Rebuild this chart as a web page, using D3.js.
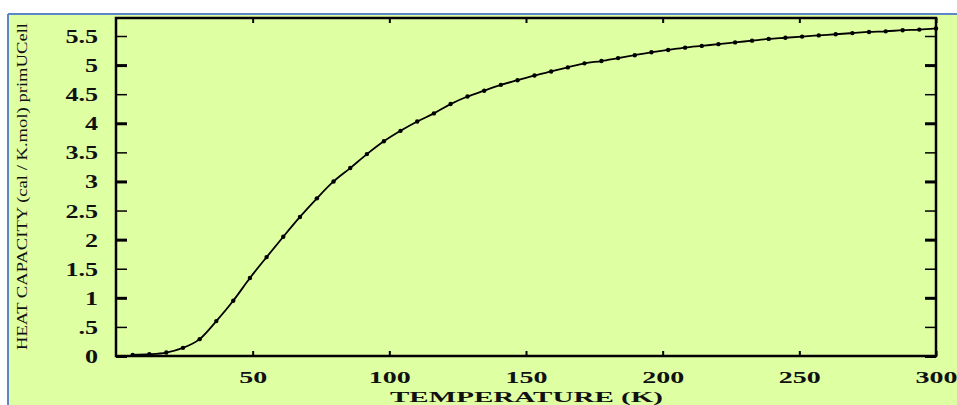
<!DOCTYPE html>
<html>
<head>
<meta charset="utf-8">
<script src="https://cdn.jsdelivr.net/npm/d3@7"></script>
<style>
  html, body { margin: 0; padding: 0; background: #ffffff; }
  svg { display: block; }
</style>
</head>
<body>
<svg id="chart" width="957" height="405"></svg>
<script>
// ---- data ----
const temperatureK = [6.1, 12.2, 18.4, 24.5, 30.6, 36.7, 42.9, 49.0, 55.1, 61.2,
  67.3, 73.5, 79.6, 85.7, 91.8, 98.0, 104.1, 110.2, 116.3, 122.4,
  128.6, 134.7, 140.8, 146.9, 153.1, 159.2, 165.3, 171.4, 177.6, 183.7,
  189.8, 195.9, 202.0, 208.2, 214.3, 220.4, 226.5, 232.7, 238.8, 244.9,
  251.0, 257.1, 263.3, 269.4, 275.5, 281.6, 287.8, 293.9, 300.0];
const heatCapacity = [0.02, 0.03, 0.06, 0.14, 0.29, 0.60, 0.95, 1.34, 1.70, 2.05,
  2.39, 2.71, 3.00, 3.23, 3.47, 3.69, 3.87, 4.03, 4.17, 4.33,
  4.46, 4.56, 4.66, 4.74, 4.82, 4.89, 4.96, 5.03, 5.07, 5.12,
  5.17, 5.22, 5.26, 5.30, 5.33, 5.36, 5.39, 5.42, 5.45, 5.47,
  5.49, 5.51, 5.53, 5.55, 5.57, 5.58, 5.60, 5.61, 5.63];
const xTickValues = [50, 100, 150, 200, 250, 300];
const xTickLabels = ["50", "100", "150", "200", "250", "300"];
const yTickValues = [0, 0.5, 1, 1.5, 2, 2.5, 3, 3.5, 4, 4.5, 5, 5.5];
const yTickLabels = ["0", ".5", "1", "1.5", "2", "2.5", "3", "3.5", "4", "4.5", "5", "5.5"];
const xTitle = "TEMPERATURE  (K)";
const yTitle = "HEAT  CAPACITY  (cal / K.mol)  primUCell";

const points = temperatureK.map((t, i) => ({ t, c: heatCapacity[i] }));

// ---- layout ----
const svg = d3.select("#chart");
const L = 116, R = 936, T = 18, B = 356;
const x = d3.scaleLinear().domain([0, 300]).range([L, R]);
const y = d3.scaleLinear().domain([0, 5.5]).range([B, 36]);
const serif = "'Liberation Serif', 'DejaVu Serif', serif";

// page background panel
svg.append("rect").attr("x", 8).attr("y", 14).attr("width", 957 - 8).attr("height", 405 - 14)
  .attr("fill", "#dfffa3");
svg.append("line").attr("x1", 8).attr("x2", 957).attr("y1", 14).attr("y2", 14)
  .attr("stroke", "#5b87c7").attr("stroke-width", 2);
svg.append("line").attr("x1", 8).attr("x2", 8).attr("y1", 14).attr("y2", 405)
  .attr("stroke", "#5b87c7").attr("stroke-width", 2);

// ---- axes ----
const gLeft = svg.append("g").attr("transform", `translate(${L},0)`)
  .call(d3.axisLeft(y).tickValues(yTickValues).tickSize(-11)
    .tickFormat((d, i) => yTickLabels[i]));
gLeft.select(".domain").remove();
gLeft.selectAll(".tick line").attr("stroke", "#000")
  .attr("stroke-width", d => Number.isInteger(d) ? 3 : 1.5);
gLeft.selectAll(".tick text")
  .attr("x", null).attr("dy", "0.36em")
  .attr("transform", "translate(-18,0) scale(1.45,1)")
  .attr("font-family", serif).attr("font-size", 18).attr("font-weight", "bold")
  .attr("fill", "#111");

const gRight = svg.append("g").attr("transform", `translate(${R},0)`)
  .call(d3.axisRight(y).tickValues(yTickValues).tickSize(-11).tickFormat(""));
gRight.select(".domain").remove();
gRight.selectAll(".tick line").attr("stroke", "#000")
  .attr("stroke-width", d => Number.isInteger(d) ? 3 : 1.5);

const gBottom = svg.append("g").attr("transform", `translate(0,${B})`)
  .call(d3.axisBottom(x).tickValues(xTickValues).tickSize(-5)
    .tickFormat((d, i) => xTickLabels[i]));
gBottom.select(".domain").remove();
gBottom.selectAll(".tick line").attr("stroke", "#000").attr("stroke-width", 2);
gBottom.selectAll(".tick text")
  .attr("y", null).attr("dy", 0)
  .attr("transform", "translate(0,27) scale(1.75,1)")
  .attr("font-family", serif).attr("font-size", 16).attr("font-weight", "bold")
  .attr("fill", "#111");

const gTop = svg.append("g").attr("transform", `translate(0,${T})`)
  .call(d3.axisTop(x).tickValues(xTickValues).tickSize(-5).tickFormat(""));
gTop.select(".domain").remove();
gTop.selectAll(".tick line").attr("stroke", "#000").attr("stroke-width", 2);

// frame
svg.append("rect").attr("x", L).attr("y", T).attr("width", R - L).attr("height", B - T)
  .attr("fill", "none").attr("stroke", "#000").attr("stroke-width", 2.5);

// ---- curve ----
const line = d3.line().x(d => x(d.t)).y(d => y(d.c)).curve(d3.curveMonotoneX);
svg.append("path").datum(points).attr("d", line)
  .attr("fill", "none").attr("stroke", "#000").attr("stroke-width", 1.8);
svg.append("g").selectAll("circle").data(points).join("circle")
  .attr("cx", d => x(d.t)).attr("cy", d => y(d.c)).attr("r", 2.2).attr("fill", "#000");

// ---- titles ----
svg.append("text").attr("x", 390).attr("y", 401.5)
  .attr("textLength", 273).attr("lengthAdjust", "spacingAndGlyphs")
  .attr("font-family", serif).attr("font-size", 15.5).attr("font-weight", "bold")
  .attr("fill", "#111").text(xTitle);

svg.append("text")
  .attr("transform", "translate(26.5,350) rotate(-90)")
  .attr("x", 0).attr("y", 0)
  .attr("textLength", 327).attr("lengthAdjust", "spacingAndGlyphs")
  .attr("font-family", serif).attr("font-size", 14)
  .attr("fill", "#111").text(yTitle);
</script>
</body>
</html>
